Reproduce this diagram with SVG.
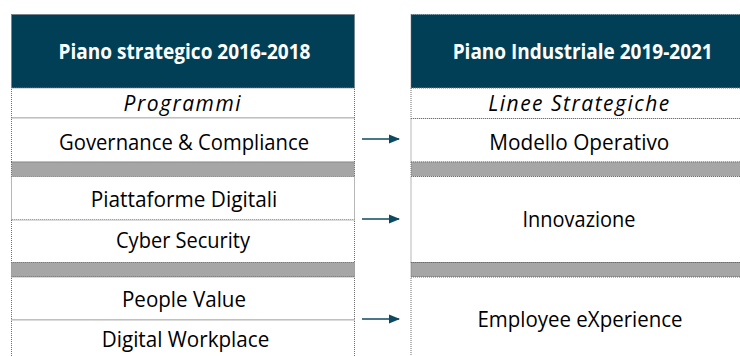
<svg xmlns="http://www.w3.org/2000/svg" width="740" height="356" viewBox="0 0 740 356">
<style>
.hdr{fill:#013f56;stroke:#6f6f6f;stroke-width:1;stroke-dasharray:1 1}
.cell{fill:#ffffff;stroke:#6f6f6f;stroke-width:1;stroke-dasharray:1 1}
.band{fill:#a6a6a6;stroke:#6f6f6f;stroke-width:1;stroke-dasharray:1 1}
.ht{font-family:"Open Sans","Noto Sans",sans-serif;font-weight:bold;font-size:21px;fill:#ffffff;text-anchor:middle}
.it{font-family:"Open Sans","Noto Sans",sans-serif;font-style:italic;font-size:21px;letter-spacing:1.5px;fill:#000000;text-anchor:middle}
.t{font-family:"Open Sans","Noto Sans",sans-serif;font-size:21px;fill:#000000;text-anchor:middle}
.conn{stroke:#0d4a62;stroke-width:1.5;fill:none}
</style>
<defs>
<marker id="ah" markerWidth="11" markerHeight="11" refX="10" refY="5.5" orient="auto" markerUnits="userSpaceOnUse">
<path d="M0,1 L11,5.5 L0,10 Z" fill="#0d4a62"/>
</marker>
</defs>
<rect x="0" y="0" width="740" height="356" fill="#ffffff"/>

<g id="left-table">
<g id="left-header">
<rect class="hdr" x="11.5" y="14.5" width="343" height="73.5"/>
<text class="ht" x="184.5" y="59" textLength="252" lengthAdjust="spacingAndGlyphs">Piano strategico 2016-2018</text>
</g>
<g id="left-sub">
<rect class="cell" x="11.5" y="88" width="343" height="30"/>
<text class="it" x="182.8" y="111">Programmi</text>
</g>
<g id="governance">
<rect class="cell" x="11.5" y="118" width="343" height="44"/>
<text class="t" x="184" y="149.5" textLength="250" lengthAdjust="spacingAndGlyphs">Governance &amp; Compliance</text>
</g>
<rect class="band" x="11.5" y="162" width="343" height="14.5"/>
<g id="piattaforme">
<rect class="cell" x="11.5" y="176.5" width="343" height="43.5"/>
<text class="t" x="184" y="207" textLength="186.5" lengthAdjust="spacingAndGlyphs">Piattaforme Digitali</text>
</g>
<g id="cyber">
<rect class="cell" x="11.5" y="220" width="343" height="42.5"/>
<text class="t" x="183" y="247.5" textLength="134" lengthAdjust="spacingAndGlyphs">Cyber Security</text>
</g>
<rect class="band" x="11.5" y="262.5" width="343" height="14.5"/>
<g id="people">
<rect class="cell" x="11.5" y="277" width="343" height="43"/>
<text class="t" x="184" y="307" textLength="124" lengthAdjust="spacingAndGlyphs">People Value</text>
</g>
<g id="workplace">
<rect class="cell" x="11.5" y="320" width="343" height="40"/>
<text class="t" x="185.5" y="347" textLength="167.5" lengthAdjust="spacingAndGlyphs">Digital Workplace</text>
</g>
</g>

<g id="right-table">
<g id="right-header">
<rect class="hdr" x="411" y="14.5" width="343" height="73.5"/>
<text class="ht" x="582.7" y="59" textLength="260" lengthAdjust="spacingAndGlyphs">Piano Industriale 2019-2021</text>
</g>
<g id="right-sub">
<rect class="cell" x="411" y="88" width="343" height="30.5"/>
<text class="it" x="579.5" y="111">Linee Strategiche</text>
</g>
<g id="modello">
<rect class="cell" x="411" y="118.5" width="343" height="43.5"/>
<text class="t" x="579.3" y="149.5" textLength="180" lengthAdjust="spacingAndGlyphs">Modello Operativo</text>
</g>
<rect class="band" x="411" y="162" width="343" height="14.5"/>
<g id="innovazione">
<rect class="cell" x="411" y="176.5" width="343" height="86"/>
<text class="t" x="579" y="227" textLength="113" lengthAdjust="spacingAndGlyphs">Innovazione</text>
</g>
<rect class="band" x="411" y="262.5" width="343" height="14.5"/>
<g id="employee">
<rect class="cell" x="411" y="277" width="343" height="83"/>
<text class="t" x="580" y="327" textLength="205" lengthAdjust="spacingAndGlyphs">Employee eXperience</text>
</g>
</g>

<g id="connectors">
<line class="conn" x1="362" y1="139" x2="399" y2="139" marker-end="url(#ah)"/>
<line class="conn" x1="362" y1="219" x2="399" y2="219" marker-end="url(#ah)"/>
<line class="conn" x1="362" y1="319" x2="399" y2="319" marker-end="url(#ah)"/>
</g>
</svg>
